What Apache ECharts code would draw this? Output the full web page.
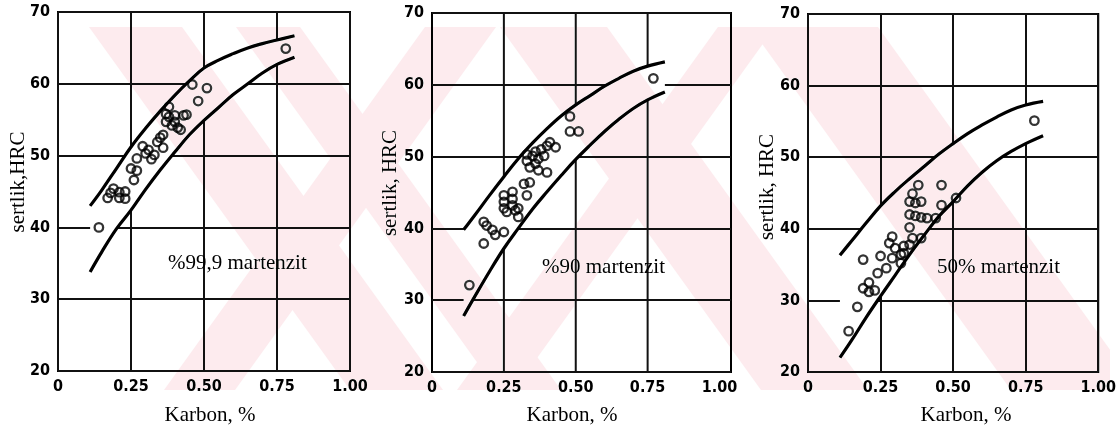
<!DOCTYPE html>
<html><head><meta charset="utf-8">
<script src="https://cdn.jsdelivr.net/npm/echarts@6/dist/echarts.min.js"></script>
<style>html,body{margin:0;padding:0;background:#fff}#c{width:1119px;height:431px}</style>
</head><body><div id="c"></div>
<script>
// ---------------- data ----------------
const xTicks = [0, 0.25, 0.5, 0.75, 1.0];
const yTicks = [20, 30, 40, 50, 60, 70];
const xTitle = 'Karbon, %';
const yTitles = ['sertlik,HRC', 'sertlik, HRC', 'sertlik, HRC'];
const panelLabels = ['%99,9 martenzit', '%90 martenzit', '50% martenzit'];

// band curves, sampled at curveX
const curveX  = [0.11, 0.15, 0.20, 0.25, 0.30, 0.35, 0.40, 0.45, 0.50, 0.55, 0.60, 0.65, 0.70, 0.75, 0.81];
const upper99 = [43.0, 45.2, 48.2, 51.2, 53.8, 56.2, 58.4, 60.4, 62.2, 63.3, 64.2, 65.0, 65.6, 66.1, 66.7];
const lower99 = [33.8, 36.6, 39.8, 42.4, 45.3, 48.0, 50.5, 52.9, 54.9, 56.7, 58.5, 60.0, 61.5, 62.7, 63.7];
const upper90 = [39.8, 41.9, 44.6, 47.2, 49.7, 51.9, 53.9, 55.7, 57.2, 58.5, 59.8, 60.9, 61.9, 62.6, 63.2];
const lower90 = [27.8, 30.6, 34.0, 37.2, 40.0, 42.7, 45.1, 47.4, 49.6, 51.6, 53.5, 55.2, 56.7, 57.9, 59.0];
const upper50 = [36.3, 38.3, 40.8, 43.2, 45.2, 47.0, 48.7, 50.4, 51.9, 53.3, 54.5, 55.6, 56.6, 57.3, 57.8];
const lower50 = [22.0, 24.4, 27.6, 30.6, 33.5, 36.4, 39.1, 41.7, 43.8, 46.0, 47.9, 49.5, 50.8, 51.9, 53.0];

// measured points [carbon %, HRC]
const pts99 = [
  [0.14,40.0],[0.17,44.1],[0.18,44.8],[0.19,45.4],[0.21,44.9],[0.21,44.1],[0.23,44.0],[0.23,45.0],
  [0.25,48.2],[0.26,46.6],[0.27,47.9],[0.27,49.6],[0.29,51.3],[0.30,50.3],[0.31,50.8],[0.32,49.5],
  [0.33,50.1],[0.34,51.9],[0.35,52.5],[0.36,51.1],[0.36,52.9],
  [0.37,54.7],[0.37,55.8],[0.38,56.8],[0.38,55.4],[0.39,54.2],[0.40,55.6],[0.40,54.7],[0.41,53.9],
  [0.42,53.6],[0.43,55.6],[0.44,55.7],
  [0.46,59.9],[0.48,57.6],[0.51,59.4],[0.78,64.9]
];
const pts90 = [
  [0.13,32.1],[0.18,37.9],[0.18,40.9],[0.19,40.4],[0.21,39.8],[0.22,39.1],[0.25,39.5],
  [0.25,44.6],[0.25,43.7],[0.25,42.8],[0.26,42.3],[0.28,45.1],[0.28,44.1],[0.28,43.2],[0.29,42.5],
  [0.30,42.8],[0.30,41.6],[0.32,46.2],[0.34,46.4],[0.33,44.6],
  [0.33,50.3],[0.33,49.4],[0.34,48.5],[0.36,49.0],[0.35,50.1],[0.36,50.7],[0.37,49.7],[0.38,51.0],
  [0.40,51.5],[0.41,52.0],[0.43,51.3],[0.39,50.1],[0.37,48.1],[0.40,47.8],
  [0.48,55.6],[0.48,53.5],[0.51,53.5],[0.77,60.9]
];
const pts50 = [
  [0.14,25.7],[0.17,29.1],[0.19,35.7],[0.19,31.7],[0.21,32.5],[0.23,31.4],[0.21,31.2],[0.24,33.8],
  [0.25,36.2],[0.27,34.5],[0.29,35.9],[0.28,38.0],[0.29,38.9],[0.30,37.3],[0.32,36.4],[0.32,35.2],
  [0.33,37.6],[0.33,36.6],[0.35,37.8],[0.35,40.2],[0.36,38.7],[0.39,38.7],
  [0.35,42.0],[0.37,41.8],[0.39,41.6],[0.41,41.5],[0.44,41.5],
  [0.35,43.8],[0.37,43.6],[0.39,43.8],[0.36,44.9],[0.38,46.1],
  [0.46,46.1],[0.46,43.3],[0.51,44.3],[0.78,55.1]
];

// ---------------- layout / style ----------------
const grids = [
  {left: 58,  top: 12, width: 292, height: 359},
  {left: 432, top: 13, width: 299, height: 359},
  {left: 808, top: 14, width: 291, height: 358}
];
const xMax = [1.0, 1.04, 1.0];
const uppers = [upper99, upper90, upper50];
const lowers = [lower99, lower90, lower50];
const points = [pts99, pts90, pts50];
const annPos = [[168, 263], [542, 267], [937, 267]];
const xTitlePos = [[210, 415], [572, 415], [966, 415]];
const yTitlePos = [[18, 182], [390, 183], [767, 187]];

const serif = "'Liberation Serif','Times New Roman','DejaVu Serif',serif";
const narrow = "'Liberation Sans Narrow','Arial Narrow','DejaVu Sans Condensed','Liberation Sans',sans-serif";
const ink = '#111';

function fmtX(v) {
  if (Math.abs(v * 4 - Math.round(v * 4)) > 1e-6) return '';
  return v === 0 ? '0' : v.toFixed(2);
}

const xAxes = [], yAxes = [], series = [];
grids.forEach((g, i) => {
  xAxes.push({
    type: 'value', gridIndex: i, min: 0, max: xMax[i], interval: 0.25,
    axisLine: {show: false}, axisTick: {show: false},
    splitLine: {show: i !== 1, lineStyle: {color: ink, width: 2}},
    axisLabel: {formatter: fmtX, color: '#000', fontFamily: narrow, fontWeight: 'bold', fontSize: 16, margin: 8}
  });
  yAxes.push({
    type: 'value', gridIndex: i, min: 20, max: 70, interval: 10,
    axisLine: {show: false}, axisTick: {show: false},
    splitLine: {show: true, lineStyle: {color: ink, width: 2}},
    axisLabel: {color: '#000', fontFamily: narrow, fontWeight: 'bold', fontSize: 16, margin: 8}
  });
  const up = uppers[i], lo = lowers[i];
  if (i === 1) {
    series.push({
      type: 'custom', xAxisIndex: i, yAxisIndex: i, silent: true, z: 0,
      data: xTicks.filter(t => t > 0 && t < 1).map(t => [t, 20]),
      renderItem: (params, api) => {
        const a = api.coord([api.value(0), 20]);
        const b = api.coord([api.value(0), 70]);
        return {type: 'line', shape: {x1: a[0], y1: a[1], x2: b[0], y2: b[1]},
                style: {stroke: ink, lineWidth: 2}};
      }
    });
  }
  series.push({
    type: 'custom', xAxisIndex: i, yAxisIndex: i, silent: true, z: 1,
    data: [[curveX[0], up[0]]],
    renderItem: (params, api) => {
      const pts = [];
      curveX.forEach((x, k) => pts.push(api.coord([x, up[k]])));
      for (let k = curveX.length - 1; k >= 0; k--) pts.push(api.coord([curveX[k], lo[k]]));
      return {type: 'polygon', shape: {points: pts}, style: {fill: '#fff'}};
    }
  });
  [up, lo].forEach(arr => {
    series.push({
      type: 'line', xAxisIndex: i, yAxisIndex: i, smooth: 0.4, symbol: 'none', silent: true, z: 3,
      data: curveX.map((x, k) => [x, arr[k]]),
      lineStyle: {color: '#000', width: 3.2}
    });
  });
  series.push({
    type: 'scatter', xAxisIndex: i, yAxisIndex: i, z: 4, symbol: 'circle', symbolSize: 8.5,
    data: points[i],
    itemStyle: {color: 'rgba(255,255,255,0)', borderColor: '#000', borderWidth: 2.3}
  });
});

// ---------------- texts ----------------
const graphics = [];
for (let i = 0; i < 3; i++) {
  graphics.push({type: 'text', x: annPos[i][0], y: annPos[i][1], z: 50,
    style: {text: panelLabels[i], font: '21px ' + serif, fill: '#000', textVerticalAlign: 'middle'}});
  graphics.push({type: 'text', x: xTitlePos[i][0], y: xTitlePos[i][1], z: 50,
    style: {text: xTitle, font: '21px ' + serif, fill: '#000', textAlign: 'center', textVerticalAlign: 'middle'}});
  graphics.push({type: 'text', x: yTitlePos[i][0], y: yTitlePos[i][1], rotation: Math.PI / 2, z: 50,
    style: {text: yTitles[i], font: '21px ' + serif, fill: '#000', textAlign: 'center', textVerticalAlign: 'middle'}});
}

// ---------------- faint watermark (decoration) ----------------
function clipPoly(poly, xmin, xmax, ymin, ymax) {
  const edges = [
    p => p[0] >= xmin, p => p[0] <= xmax, p => p[1] >= ymin, p => p[1] <= ymax];
  const inter = [
    (a, b) => { const t = (xmin - a[0]) / (b[0] - a[0]); return [xmin, a[1] + t * (b[1] - a[1])]; },
    (a, b) => { const t = (xmax - a[0]) / (b[0] - a[0]); return [xmax, a[1] + t * (b[1] - a[1])]; },
    (a, b) => { const t = (ymin - a[1]) / (b[1] - a[1]); return [a[0] + t * (b[0] - a[0]), ymin]; },
    (a, b) => { const t = (ymax - a[1]) / (b[1] - a[1]); return [a[0] + t * (b[0] - a[0]), ymax]; }];
  let out = poly;
  for (let e = 0; e < 4; e++) {
    const inp = out; out = [];
    for (let k = 0; k < inp.length; k++) {
      const cur = inp[k], prev = inp[(k + inp.length - 1) % inp.length];
      const ci = edges[e](cur), pi = edges[e](prev);
      if (ci) { if (!pi) out.push(inter[e](prev, cur)); out.push(cur); }
      else if (pi) out.push(inter[e](prev, cur));
    }
  }
  return out;
}
const wmTop = 27, wmBot = 390, wmShift = 261;
const backArms = [[89, 182], [236, 300], [500, 607], [750, 878]];
const fwdArms = [[425, 496], [718, 775]];
const wmStyle = {fill: '#fdebee', blend: 'darken'};
backArms.forEach(a => {
  const p = clipPoly([[a[0], wmTop], [a[1], wmTop], [a[1] + wmShift, wmBot], [a[0] + wmShift, wmBot]], 89, 1110, wmTop, wmBot);
  if (p.length) graphics.push({type: 'polygon', z: 100, silent: true, shape: {points: p}, style: wmStyle});
});
fwdArms.forEach(a => {
  const p = clipPoly([[a[0], wmTop], [a[1], wmTop], [a[1] - wmShift, wmBot], [a[0] - wmShift, wmBot]], 89, 1110, wmTop, wmBot);
  if (p.length) graphics.push({type: 'polygon', z: 100, silent: true, shape: {points: p}, style: wmStyle});
});

const chart = echarts.init(document.getElementById('c'), null, {renderer: 'canvas'});
chart.setOption({
  backgroundColor: '#fff',
  animation: false,
  grid: grids.map(g => Object.assign({show: true, borderColor: '#000', borderWidth: 2, backgroundColor: 'transparent'}, g)),
  xAxis: xAxes,
  yAxis: yAxes,
  series: series,
  graphic: graphics
});
</script>
</body></html>
